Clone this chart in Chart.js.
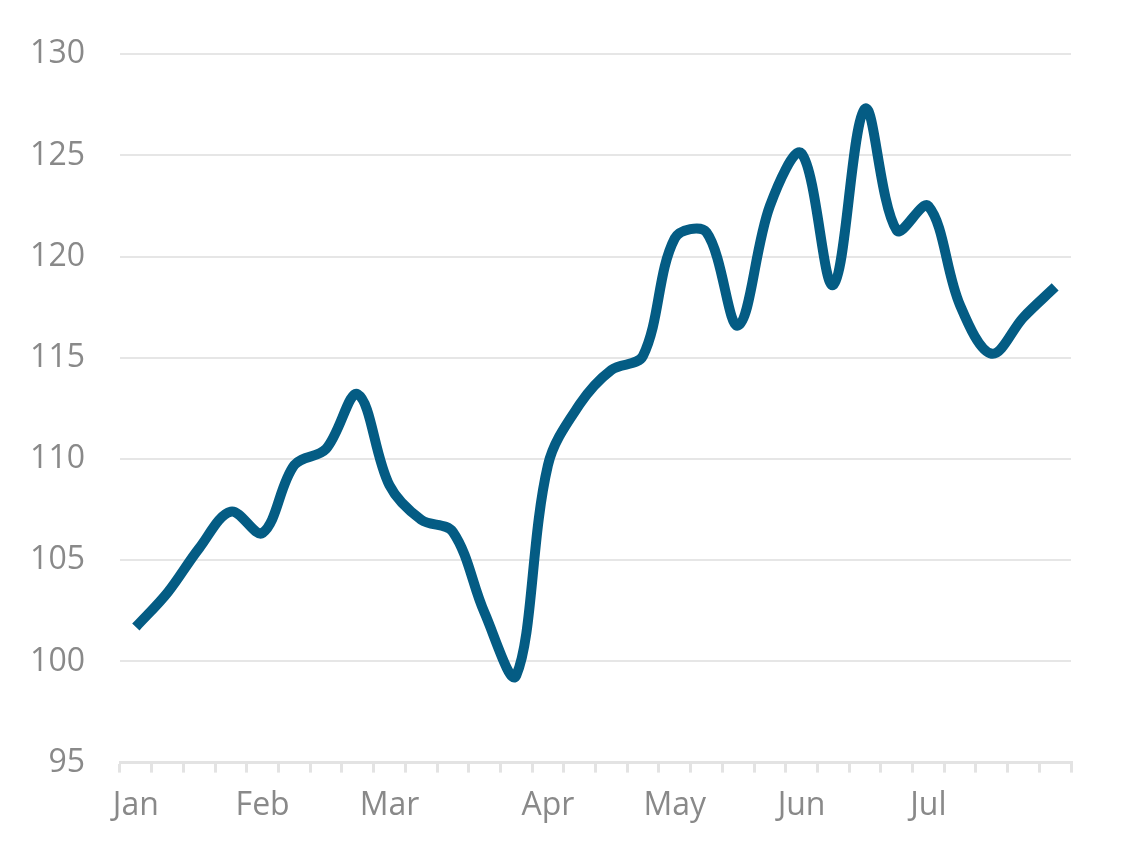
<!DOCTYPE html>
<html>
<head>
<meta charset="utf-8">
<script src="https://cdn.jsdelivr.net/npm/chart.js@4"></script>
<style>
  body { margin: 0; background: #fff; }
</style>
</head>
<body>
<canvas id="weeklyChart" width="1127" height="866"></canvas>
<script>
// weekly categories, a month name on the first week of each month
const weekLabels = ['Jan', '', '', '', 'Feb', '', '', '', 'Mar', '', '', '', '', 'Apr', '', '', '',
    'May', '', '', '', 'Jun', '', '', '', 'Jul', '', '', '', ''];
const weekValues = [101.7, 103.4, 105.6, 107.4, 106.35, 109.7, 110.5, 113.2, 108.7, 107.0,
    106.4, 102.4, 99.3, 109.7, 112.7, 114.4, 115.1, 120.9, 121.2, 116.6,
    122.5, 125.1, 118.6, 127.3, 121.3, 122.5, 117.6, 115.2, 117.0, 118.5];
const yMin = 95;
const yMax = 130;
const yStep = 5;

document.addEventListener("DOMContentLoaded", function () {
    const ctx = document.getElementById("weeklyChart").getContext("2d");
    const labelFont = { family: "'Open Sans', sans-serif", size: 32 };

    new Chart(ctx, {
        type: 'line',
        data: {
            labels: weekLabels,
            datasets: [{
                data: weekValues,
                borderColor: '#045c84',
                borderWidth: 10,
                borderCapStyle: 'butt',
                borderJoinStyle: 'round',
                pointRadius: 0,
                tension: 0.35,
                fill: false
            }]
        },
        options: {
            responsive: false,
            animation: false,
            layout: {
                padding: { top: 49, right: 56, bottom: 27, left: 0 }
            },
            plugins: {
                legend: { display: false },
                tooltip: { enabled: false }
            },
            scales: {
                x: {
                    offset: true,
                    grid: {
                        offset: true,
                        drawOnChartArea: false,
                        drawTicks: true,
                        tickLength: 10,
                        color: '#e3e3e3',
                        lineWidth: 3
                    },
                    border: { display: true, color: '#e3e3e3', width: 3 },
                    ticks: {
                        autoSkip: false,
                        maxRotation: 0,
                        padding: 14,
                        color: '#898989',
                        font: labelFont
                    }
                },
                y: {
                    min: yMin,
                    max: yMax,
                    afterFit: function (scale) { scale.width = 120; },
                    grid: {
                        drawTicks: false,
                        color: '#e6e6e6',
                        lineWidth: 2
                    },
                    border: { display: false },
                    ticks: {
                        stepSize: yStep,
                        padding: 35,
                        color: '#898989',
                        font: labelFont
                    }
                }
            }
        }
    });
});
</script>
</body>
</html>
